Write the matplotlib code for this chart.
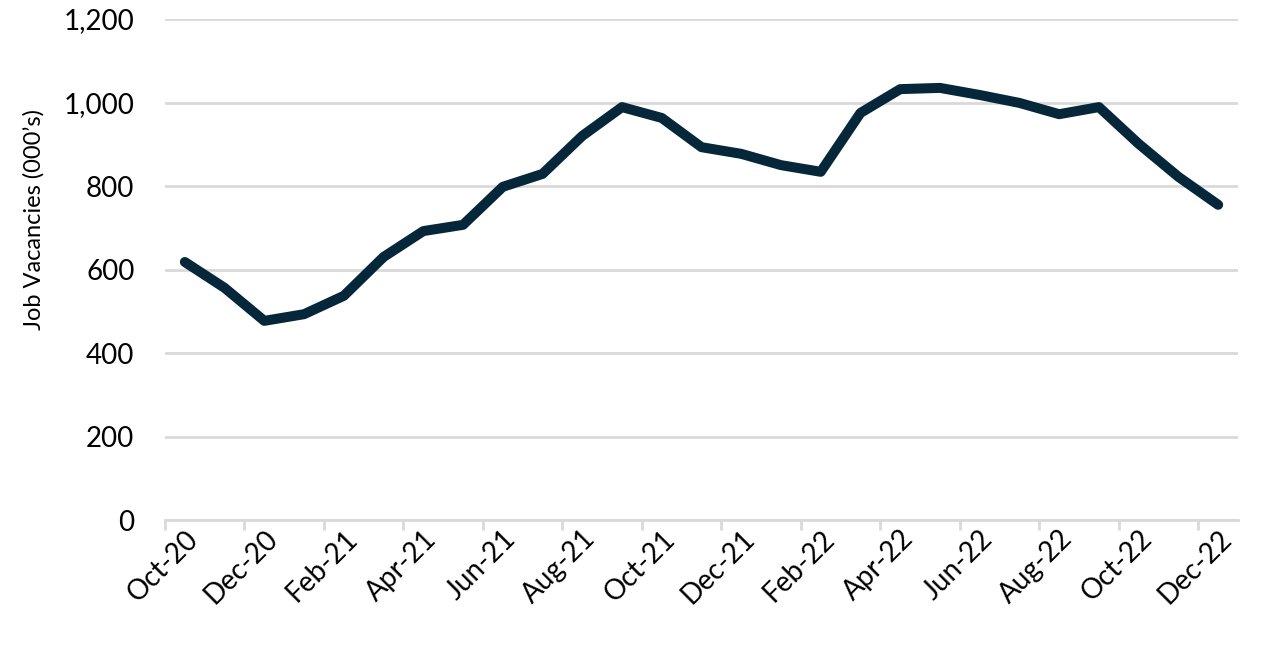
import numpy as np
import matplotlib.pyplot as plt

months = ["Oct-20", "Nov-20", "Dec-20", "Jan-21", "Feb-21", "Mar-21", "Apr-21",
          "May-21", "Jun-21", "Jul-21", "Aug-21", "Sep-21", "Oct-21", "Nov-21",
          "Dec-21", "Jan-22", "Feb-22", "Mar-22", "Apr-22", "May-22", "Jun-22",
          "Jul-22", "Aug-22", "Sep-22", "Oct-22", "Nov-22", "Dec-22"]
vacancies = [618, 556, 477, 493, 537, 630, 692, 707, 798, 829, 920, 989, 963,
             893, 877, 850, 834, 975, 1032, 1035, 1018, 999, 972, 989, 901,
             822, 755]
yticks = [0, 200, 400, 600, 800, 1000, 1200]

plt.rcParams['font.family'] = ['Lato', 'DejaVu Sans']

fig = plt.figure(figsize=(12.72, 6.69), dpi=100)
ax = fig.add_axes([0.1297, 0.2227, 0.8436, 0.7489])

x = np.arange(len(months))
ax.plot(x, vacancies, color="#06263a", lw=7.2, solid_capstyle="round",
        solid_joinstyle="round", zorder=3)

ax.set_xlim(-0.5, len(months) - 0.5)
ax.set_ylim(0, 1200)
ax.set_yticks(yticks)
ax.set_yticklabels([f"{v:,}" for v in yticks])
ax.yaxis.grid(True, color="#d9d9d9", lw=2)
ax.set_axisbelow(True)
ax.tick_params(axis="y", length=0, pad=22, labelsize=20)

# boundary tick marks every two months, labels centred on the month
ax.set_xticks(np.arange(-0.5, len(months) - 1, 2))
ax.set_xticklabels([])
ax.tick_params(axis="x", which="major", length=7, width=2, color="#d9d9d9")
ax.set_xticks(x[::2], minor=True)
ax.set_xticklabels(months[::2], minor=True, rotation=45, ha="right",
                   rotation_mode="anchor", fontsize=20)
ax.tick_params(axis="x", which="minor", length=0, pad=4)

for s in ["top", "right", "left"]:
    ax.spines[s].set_visible(False)
ax.spines["bottom"].set_color("#d9d9d9")
ax.spines["bottom"].set_linewidth(2)

ax.set_ylabel("Job Vacancies (000\u2019s)", fontsize=17)
ax.yaxis.set_label_coords(-0.112, 0.6)

fig.savefig("out.png", dpi=100)
